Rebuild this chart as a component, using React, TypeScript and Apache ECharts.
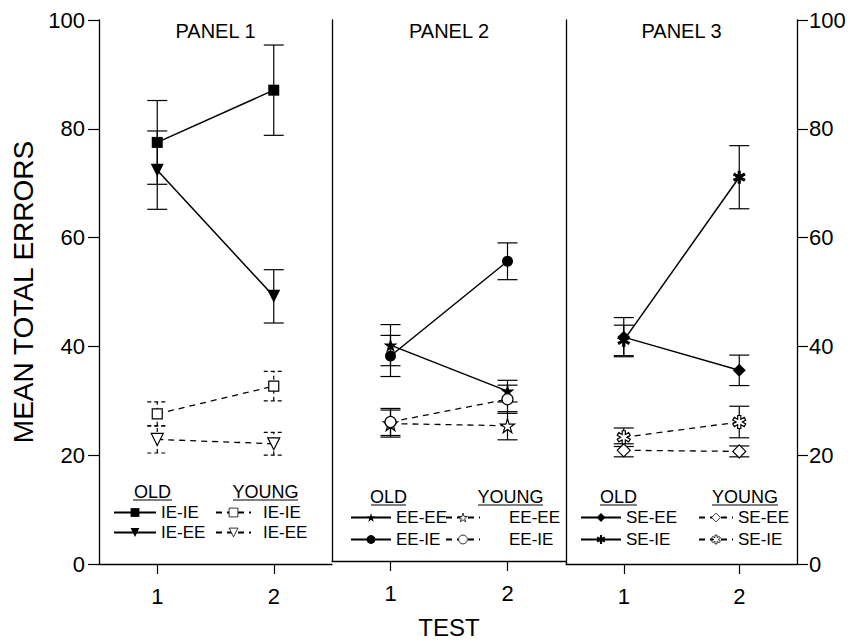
import React, { useEffect, useRef } from "react";
import * as echarts from "echarts";

// ---------- data ----------
const tests = [1, 2];
const yTickLabels = [0, 20, 40, 60, 80, 100];
const panelTitles = ["PANEL 1", "PANEL 2", "PANEL 3"];

// Panel 1
const oldIEIE = [77.5, 87.1];
const oldIEIEErr = [7.7, 8.3];
const oldIEEE = [72.4, 49.2];
const oldIEEEErr = [7.2, 4.9];
const youngIEIE = [27.6, 32.7];
const youngIEIEErr = [2.2, 2.7];
const youngIEEE = [22.9, 22.1];
const youngIEEEErr = [2.5, 2.1];

// Panel 2
const oldEEEE = [39.9, 31.4];
const oldEEEEErr = [3.8, 2.0];
const oldEEIE = [37.9, 55.4];
const oldEEIEErr = [3.8, 3.4];
const youngEEEE = [25.4, 25.0];
const youngEEEEErr = [2.5, 2.6];
const youngEEIE = [25.7, 29.9];
const youngEEIEErr = [2.5, 2.6];

// Panel 3
const oldSEEE = [41.7, 35.6];
const oldSEEEErr = [3.6, 2.8];
const oldSEIE = [41.1, 71.1];
const oldSEIEErr = [2.8, 5.8];
const youngSEEE = [20.9, 20.7];
const youngSEEEErr = [1.2, 1.0];
const youngSEIE = [23.3, 26.1];
const youngSEIEErr = [1.7, 2.9];

// ---------- symbols ----------
const STAR =
  "path://M50,0L61.2,34.5L97.6,34.5L68.2,55.9L79.4,90.5L50,69.1L20.6,90.5L31.8,55.9L2.4,34.5L38.8,34.5Z";
const TRI_DOWN = "path://M0,0L100,0L50,90Z";
function asteriskPath(): string {
  const R = 50;
  const h = 12;
  const pts: string[] = [];
  const toSvg = (x: number, y: number) => `${(50 + x).toFixed(2)},${(50 - y).toFixed(2)}`;
  for (let k = 0; k < 6; k++) {
    const th = ((90 + 60 * k) * Math.PI) / 180;
    const dx = Math.cos(th), dy = Math.sin(th);
    const px = -dy, py = dx;
    pts.push(toSvg(R * dx - h * px, R * dy - h * py));
    pts.push(toSvg(R * dx + h * px, R * dy + h * py));
    const tb = th + Math.PI / 6;
    pts.push(toSvg(2 * h * Math.cos(tb), 2 * h * Math.sin(tb)));
  }
  return "path://M" + pts.join("L") + "Z";
}
const ASTERISK = asteriskPath();

const FONT = "'Liberation Sans', Arial, Helvetica, sans-serif";

type SeriesDef = {
  name: string;
  values: number[];
  errs: number[];
  young: boolean;
  symbol: string;
  size: number;
  dashedErr?: boolean;
};

const panels: SeriesDef[][] = [
  [
    { name: "OLD IE-IE", values: oldIEIE, errs: oldIEIEErr, young: false, symbol: "rect", size: 11 },
    { name: "OLD IE-EE", values: oldIEEE, errs: oldIEEEErr, young: false, symbol: TRI_DOWN, size: 13 },
    { name: "YOUNG IE-IE", values: youngIEIE, errs: youngIEIEErr, young: true, symbol: "rect", size: 10, dashedErr: true },
    { name: "YOUNG IE-EE", values: youngIEEE, errs: youngIEEEErr, young: true, symbol: TRI_DOWN, size: 12, dashedErr: true },
  ],
  [
    { name: "OLD EE-EE", values: oldEEEE, errs: oldEEEEErr, young: false, symbol: STAR, size: 14 },
    { name: "OLD EE-IE", values: oldEEIE, errs: oldEEIEErr, young: false, symbol: "circle", size: 11 },
    { name: "YOUNG EE-EE", values: youngEEEE, errs: youngEEEEErr, young: true, symbol: STAR, size: 14 },
    { name: "YOUNG EE-IE", values: youngEEIE, errs: youngEEIEErr, young: true, symbol: "circle", size: 11 },
  ],
  [
    { name: "OLD SE-EE", values: oldSEEE, errs: oldSEEEErr, young: false, symbol: "diamond", size: 13 },
    { name: "OLD SE-IE", values: oldSEIE, errs: oldSEIEErr, young: false, symbol: ASTERISK, size: 13 },
    { name: "YOUNG SE-EE", values: youngSEEE, errs: youngSEEEErr, young: true, symbol: "diamond", size: 13 },
    { name: "YOUNG SE-IE", values: youngSEIE, errs: youngSEIEErr, young: true, symbol: ASTERISK, size: 13 },
  ],
];

// layout
const grids = [
  { left: 99, width: 233 },
  { left: 332, width: 234 },
  { left: 566, width: 231 },
];
const GRID_TOP = 20;
const GRID_BOTTOM = 80;

const legendLayout = [
  { old: { left: 113, w: 42 }, young: { left: 215, w: 35, pad: 7 }, top: 504, gap: 3 },
  { old: { left: 350, w: 40 }, young: { left: 445, w: 34, pad: 24 }, top: 509, gap: 5 },
  { old: { left: 580, w: 40 }, young: { left: 698, w: 34, pad: 0 }, top: 509, gap: 5 },
];
const headerLayout = [
  { y: 492, old: [133, 172], young: [233, 298] },
  { y: 497, old: [371, 406], young: [478, 543] },
  { y: 497, old: [600, 637], young: [712, 778] },
];

function buildOption() {
  const series: any[] = [];
  panels.forEach((defs, p) => {
    defs.forEach((d) => {
      series.push({
        type: "custom",
        name: "err " + d.name,
        xAxisIndex: p,
        yAxisIndex: p,
        silent: true,
        z: 1,
        encode: { x: 0, y: [1, 2] },
        data: tests.map((t, i) => [t, d.values[i] - d.errs[i], d.values[i] + d.errs[i]]),
        renderItem: (params: any, api: any) => {
          const x = api.value(0);
          const lo = api.coord([x, api.value(1)]);
          const hi = api.coord([x, api.value(2)]);
          const hw = 10;
          const style: any = { stroke: "#000", lineWidth: 1.2 };
          if (d.dashedErr) style.lineDash = [4, 3];
          return {
            type: "group",
            children: [
              { type: "line", shape: { x1: lo[0], y1: lo[1], x2: hi[0], y2: hi[1] }, style },
              { type: "line", shape: { x1: lo[0] - hw, y1: lo[1], x2: lo[0] + hw, y2: lo[1] }, style },
              { type: "line", shape: { x1: hi[0] - hw, y1: hi[1], x2: hi[0] + hw, y2: hi[1] }, style },
            ],
          };
        },
      });
    });
    defs.forEach((d) => {
      series.push({
        type: "line",
        name: d.name,
        xAxisIndex: p,
        yAxisIndex: p,
        z: 3,
        data: tests.map((t, i) => [t, d.values[i]]),
        symbol: d.symbol,
        symbolSize: d.size,
        showAllSymbol: true,
        lineStyle: d.young
          ? { color: "#000", width: 1.3, type: [6, 5] }
          : { color: "#000", width: 1.5, type: "solid" },
        itemStyle: d.young
          ? { color: "#fff", borderColor: "#000", borderWidth: 1.2 }
          : { color: "#000", borderColor: "#000", borderWidth: 0 },
      });
    });
  });

  const legends: any[] = [];
  panels.forEach((defs, p) => {
    const L = legendLayout[p];
    const common = {
      orient: "vertical",
      top: L.top,
      padding: 0,
      itemHeight: 11,
      itemGap: L.gap,
      selectedMode: false,
      formatter: (n: string) => n.replace(/^(OLD|YOUNG) /, ""),
    };
    legends.push({
      ...common,
      left: L.old.left,
      itemWidth: L.old.w,
      data: defs.filter((d) => !d.young).map((d) => d.name),
      textStyle: { color: "#000", fontSize: 17, fontFamily: FONT },
    });
    legends.push({
      ...common,
      left: L.young.left,
      itemWidth: L.young.w,
      itemStyle: { borderWidth: 0.8 },
      data: defs.filter((d) => d.young).map((d) => d.name),
      textStyle: { color: "#000", fontSize: 17, fontFamily: FONT, padding: [0, 0, 0, L.young.pad] },
    });
  });

  const graphics: any[] = [];
  grids.forEach((g, p) => {
    graphics.push({
      type: "text",
      x: g.left + g.width / 2,
      y: 31,
      style: {
        text: panelTitles[p],
        font: `20px ${FONT}`,
        fill: "#000",
        textAlign: "center",
        textVerticalAlign: "middle",
        align: "center",
        verticalAlign: "middle",
      },
    });
    const H = headerLayout[p];
    (["old", "young"] as const).forEach((k) => {
      const [x1, x2] = H[k];
      graphics.push({
        type: "text",
        x: (x1 + x2) / 2,
        y: H.y,
        style: {
          text: k === "old" ? "OLD" : "YOUNG",
          font: `18px ${FONT}`,
          fill: "#000",
          textAlign: "center",
          textVerticalAlign: "middle",
          align: "center",
          verticalAlign: "middle",
        },
      });
      graphics.push({
        type: "line",
        shape: { x1, y1: H.y + 8, x2, y2: H.y + 8 },
        style: { stroke: "#000", lineWidth: 1.2 },
      });
    });
  });

  const axisLine = { show: true, lineStyle: { color: "#000", width: 1.3 } };

  return {
    animation: false,
    backgroundColor: "#fff",
    textStyle: { fontFamily: FONT },
    grid: grids.map((g) => ({ left: g.left, width: g.width, top: GRID_TOP, bottom: GRID_BOTTOM })),
    xAxis: grids.map((g, p) => ({
      type: "value",
      gridIndex: p,
      min: 0.5,
      max: 2.5,
      axisLine,
      axisTick: { show: true, length: 10, customValues: tests, lineStyle: { color: "#000", width: 1.2 } },
      axisLabel: { customValues: tests, color: "#000", fontSize: 22, margin: 21, fontFamily: FONT },
      splitLine: { show: false },
      name: p === 1 ? "TEST" : "",
      nameLocation: "middle",
      nameGap: 54,
      nameTextStyle: { color: "#000", fontSize: 24, fontFamily: FONT },
    })),
    yAxis: [
      {
        type: "value",
        gridIndex: 0,
        position: "left",
        min: 0,
        max: 100,
        interval: 20,
        axisLine,
        axisTick: { show: true, length: 11, lineStyle: { color: "#000", width: 1.2 } },
        axisLabel: {
          color: "#000",
          fontSize: 22,
          margin: 14,
          fontFamily: FONT,
          formatter: (v: number) => (yTickLabels.includes(v) ? String(v) : ""),
        },
        splitLine: { show: false },
        name: "MEAN TOTAL ERRORS",
        nameLocation: "middle",
        nameGap: 62,
        nameTextStyle: { color: "#000", fontSize: 28, fontFamily: FONT },
      },
      {
        type: "value",
        gridIndex: 1,
        position: "left",
        min: 0,
        max: 100,
        interval: 20,
        axisLine,
        axisTick: { show: false },
        axisLabel: { show: false },
        splitLine: { show: false },
      },
      {
        type: "value",
        gridIndex: 2,
        position: "left",
        min: 0,
        max: 100,
        interval: 20,
        axisLine,
        axisTick: { show: false },
        axisLabel: { show: false },
        splitLine: { show: false },
      },
      {
        type: "value",
        gridIndex: 2,
        position: "right",
        min: 0,
        max: 100,
        interval: 20,
        axisLine,
        axisTick: { show: true, length: 11, lineStyle: { color: "#000", width: 1.2 } },
        axisLabel: {
          color: "#000",
          fontSize: 22,
          margin: 12,
          fontFamily: FONT,
          formatter: (v: number) => (yTickLabels.includes(v) ? String(v) : ""),
        },
        splitLine: { show: false },
      },
    ],
    legend: legends,
    graphic: graphics,
    series,
  };
}

export default function App() {
  const ref = useRef<HTMLDivElement>(null);
  useEffect(() => {
    if (!ref.current) return;
    const chart = echarts.init(ref.current, undefined, { renderer: "svg" });
    chart.setOption(buildOption() as any);
    return () => chart.dispose();
  }, []);
  return (
    <div
      ref={ref}
      style={{ position: "fixed", left: 0, top: 0, width: 851, height: 644, background: "#fff" }}
    />
  );
}
